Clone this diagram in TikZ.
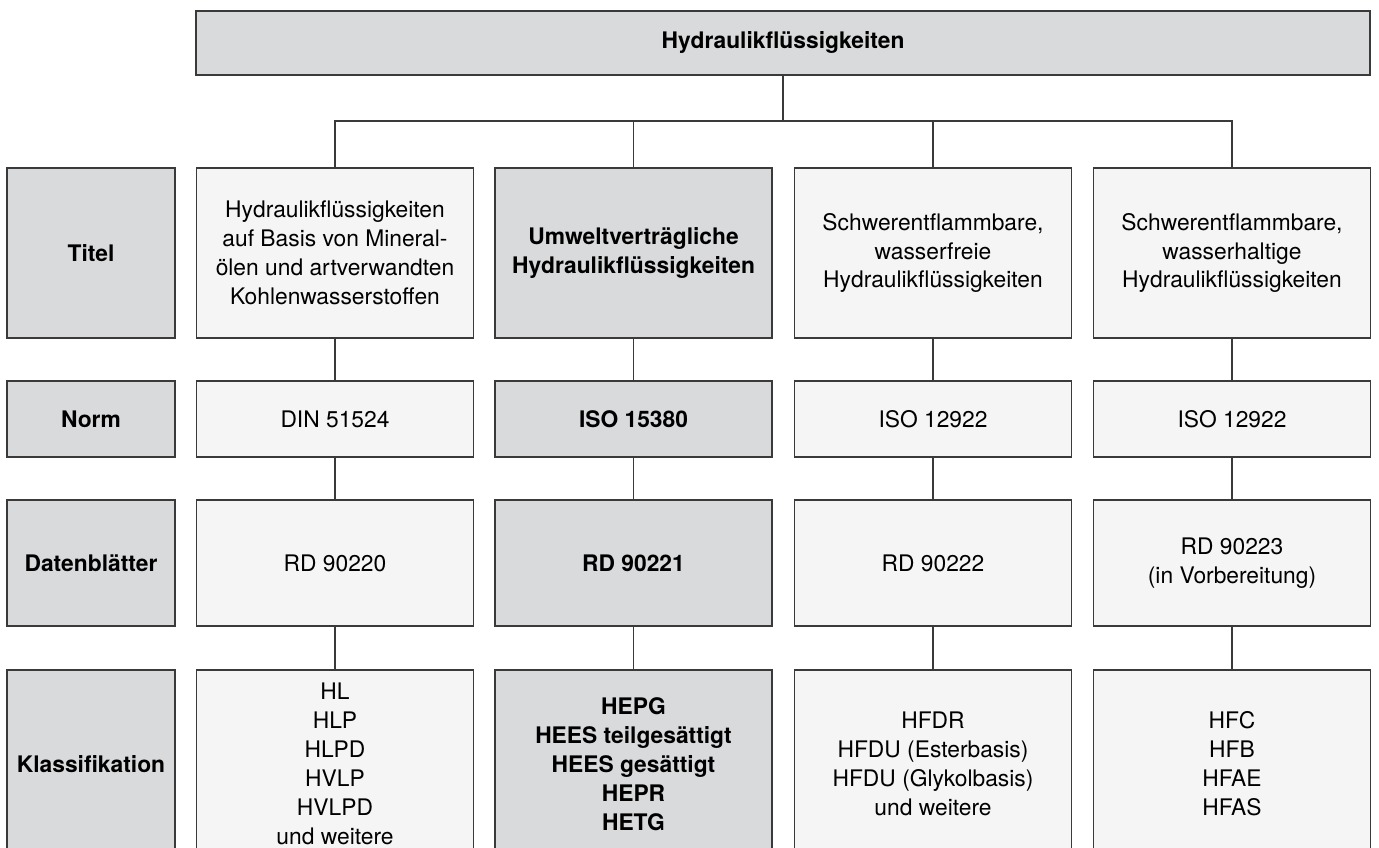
\documentclass[tikz,border=0pt]{standalone}
\usepackage{fontspec}
\setmainfont{TeX Gyre Heros}
\definecolor{darkfill}{HTML}{D9DADC}
\definecolor{lightfill}{HTML}{F5F5F5}
\definecolor{edge}{HTML}{3A3A3A}
\begin{document}
\begin{tikzpicture}[x=1pt,y=-1pt,
  box/.style={draw=edge, line width=1.5pt, inner sep=0pt, align=center,
    font=\fontsize{22.8}{28.9}\selectfont, text=black},
  lbox/.style={box, fill=darkfill, font=\fontsize{22.8}{28.9}\selectfont\bfseries, minimum width=168pt},
  cbox/.style={box, fill=lightfill, minimum width=277pt},
  mbox/.style={box, fill=darkfill, font=\fontsize{22.8}{28.9}\selectfont\bfseries, minimum width=277pt},
  rowT/.style={minimum height=170pt},
  rowN/.style={minimum height=76pt},
  rowD/.style={minimum height=126pt},
  rowK/.style={minimum height=188pt},
  conn/.style={draw=edge, line width=1.5pt}
]
\useasboundingbox (0,0) rectangle (1379,848);
\clip (0,0) rectangle (1379,848);

% top box
\node[box, fill=darkfill, font=\fontsize{22.8}{28.9}\selectfont\bfseries,
  minimum width=1174pt, minimum height=64pt] (top) at (783,43) {Hydraulikflüssigkeiten};

% label column
\node[lbox, rowT] (lT) at (91,253) {Titel};
\node[lbox, rowN] (lN) at (91,419) {Norm};
\node[lbox, rowD] (lD) at (91,563) {Datenblätter};
\node[lbox, rowK] (lK) at (91,764) {Klassifikation};

% column 1
\node[cbox, rowT] (t1) at (335,253) {Hydraulikflüssigkeiten\\auf Basis von Mineral-\\ölen und artverwandten\\Kohlenwasserstoffen};
\node[cbox, rowN] (n1) at (335,419) {DIN 51524};
\node[cbox, rowD] (d1) at (335,563) {RD 90220};
\node[cbox, rowK] (k1) at (335,764) {HL\\HLP\\HLPD\\HVLP\\HVLPD\\und weitere};

% column 2
\node[mbox, rowT] (t2) at (633.5,253) {Umweltverträgliche\\Hydraulikflüssigkeiten};
\node[mbox, rowN] (n2) at (633.5,419) {ISO 15380};
\node[mbox, rowD] (d2) at (633.5,563) {RD 90221};
\node[mbox, rowK] (k2) at (633.5,764) {HEPG\\HEES teilgesättigt\\HEES gesättigt\\HEPR\\HETG};

% column 3
\node[cbox, rowT] (t3) at (933,253) {Schwerentflammbare,\\wasserfreie\\Hydraulikflüssigkeiten};
\node[cbox, rowN] (n3) at (933,419) {ISO 12922};
\node[cbox, rowD] (d3) at (933,563) {RD 90222};
\node[cbox, rowK] (k3) at (933,764) {HFDR\\HFDU (Esterbasis)\\HFDU (Glykolbasis)\\und weitere};

% column 4
\node[cbox, rowT] (t4) at (1232,253) {Schwerentflammbare,\\wasserhaltige\\Hydraulikflüssigkeiten};
\node[cbox, rowN] (n4) at (1232,419) {ISO 12922};
\node[cbox, rowD] (d4) at (1232,563) {RD 90223\\(in Vorbereitung)};
\node[cbox, rowK] (k4) at (1232,764) {HFC\\HFB\\HFAE\\HFAS};

% connectors
\coordinate (bus) at (783,121);
\draw[conn] (top.south) -- (top.south |- bus);
\draw[conn] (t1.north) -- (t1.north |- bus) -- (t4.north |- bus) -- (t4.north);
\draw[conn] (t2.north) -- (t2.north |- bus);
\draw[conn] (t3.north) -- (t3.north |- bus);
\foreach \c in {1,2,3,4}{
  \draw[conn] (t\c.south) -- (n\c.north);
  \draw[conn] (n\c.south) -- (d\c.north);
  \draw[conn] (d\c.south) -- (k\c.north);
}
\end{tikzpicture}
\end{document}
